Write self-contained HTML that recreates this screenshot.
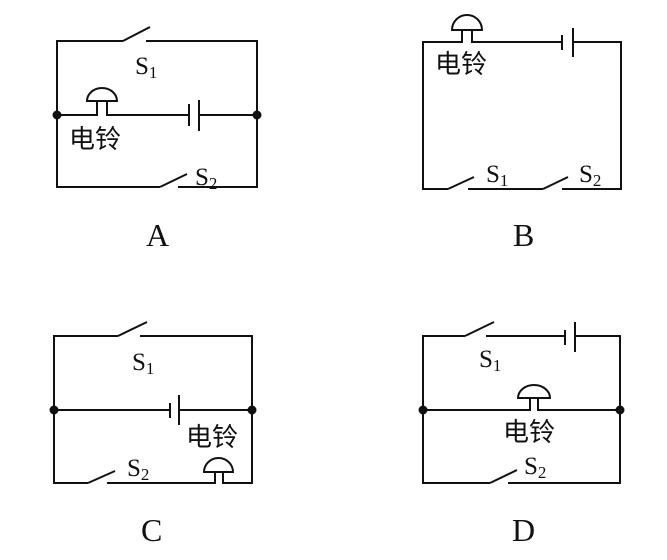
<!DOCTYPE html>
<html><head><meta charset="utf-8"><style>body{margin:0;background:#fff}svg{display:block}</style></head><body>
<svg width="667" height="560" viewBox="0 0 667 560" xmlns="http://www.w3.org/2000/svg" fill="none" stroke="#111" stroke-width="2">
<!-- A -->
<path d="M123,41 H57 V187 H160 M178,187 H257 V41 H146 M123,41 L150,27 M160,187 L187,174"/>
<path d="M57,115 H97 V101 M107,101 V115 H189 M199,115 H257"/>
<path d="M189,104 V126 M199,100 V131"/>
<path d="M87,101 A15,13 0 0 1 117,101 Z"/>
<circle cx="57" cy="115" r="3.5" fill="#111"/><circle cx="257" cy="115" r="3.5" fill="#111"/>
<!-- B -->
<path d="M448,189 H423 V42 H462 V30 M472,30 V42 H562 M573,42 H621 V189 H562 M543,189 H468 M448,189 L474,177 M543,189 L568,177"/>
<path d="M452,30 A15,15 0 0 1 482,30 Z"/>
<path d="M562,35 V50 M573,28 V57"/>
<!-- C -->
<path d="M118,336 H54 V483 H88 M107,483 H215 V472 M223,472 V483 H252 V336 H140 M118,336 L147,322 M88,483 L115,471"/>
<path d="M54,410 H170 M179,410 H252 M170,403 V418 M179,395 V425"/>
<path d="M204,472 A14.5,14 0 0 1 233,472 Z"/>
<circle cx="54" cy="410" r="3.5" fill="#111"/><circle cx="252" cy="410" r="3.5" fill="#111"/>
<!-- D -->
<path d="M465,336 H423 V483 H490 M508,483 H620 V336 H575 M565,336 H486 M465,336 L494,322 M490,483 L517,470"/>
<path d="M565,330 V345 M575,322 V352"/>
<path d="M423,410 H530 V398 M538,398 V410 H620"/>
<path d="M518,398 A16,13 0 0 1 550,398 Z"/>
<circle cx="423" cy="410" r="3.5" fill="#111"/><circle cx="620" cy="410" r="3.5" fill="#111"/>
<g fill="#111" stroke="none" font-family="Liberation Serif, serif" font-size="25">
<text x="135" y="74">S<tspan font-size="17" dy="4">1</tspan></text>
<text x="195" y="185">S<tspan font-size="17" dy="4">2</tspan></text>
<text x="486" y="182">S<tspan font-size="17" dy="4">1</tspan></text>
<text x="579" y="182">S<tspan font-size="17" dy="4">2</tspan></text>
<text x="132" y="370">S<tspan font-size="17" dy="4">1</tspan></text>
<text x="127" y="476">S<tspan font-size="17" dy="4">2</tspan></text>
<text x="479" y="367">S<tspan font-size="17" dy="4">1</tspan></text>
<text x="524" y="474">S<tspan font-size="17" dy="4">2</tspan></text>
<g font-size="32"><text x="146" y="246">A</text><text x="513" y="246">B</text><text x="141" y="541">C</text><text x="512" y="541">D</text></g>
</g>
<g fill="#111" stroke="none" font-family="Liberation Sans, 'Noto Sans CJK SC', sans-serif" font-size="26">
<text x="69" y="148">电铃</text>
<text x="435" y="73">电铃</text>
<text x="186" y="446">电铃</text>
<text x="503" y="441">电铃</text>
</g>
</svg>
</body></html>
